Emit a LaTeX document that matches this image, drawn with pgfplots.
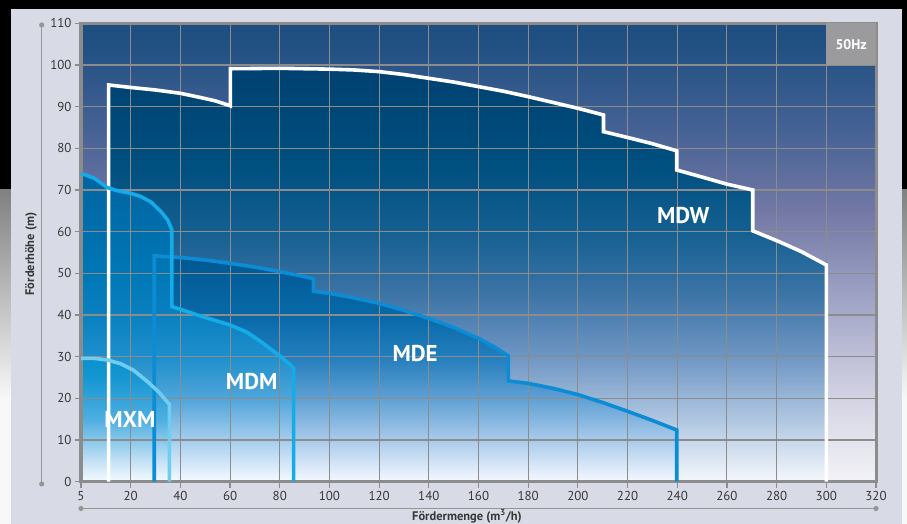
\documentclass[border=0pt]{standalone}
\usepackage{pgfplots}
\pgfplotsset{compat=1.18}
\usepackage{pgfplotstable}
\usepackage{fontspec}
\setmainfont{PT Sans}

\definecolor{gridgray}{RGB}{140,140,140}
\definecolor{scalegray}{RGB}{150,150,150}
\definecolor{panel}{RGB}{216,219,229}
\definecolor{labgray}{RGB}{55,55,55}
\definecolor{hzgray}{RGB}{155,155,158}
\definecolor{fadegray}{RGB}{128,128,128}
\definecolor{fadewhite}{RGB}{248,248,248}
\definecolor{lineMDE}{RGB}{12,140,212}
\definecolor{lineMDM}{RGB}{20,172,232}
\definecolor{lineMXM}{RGB}{110,205,240}

% plot area background (bottom -> top)
\definecolor{bg0}{RGB}{242,242,247}
\definecolor{bg1}{RGB}{220,220,233}
\definecolor{bg2}{RGB}{195,196,217}
\definecolor{bg3}{RGB}{150,155,192}
\definecolor{bg4}{RGB}{115,120,165}
\definecolor{bg5}{RGB}{68,97,148}
\definecolor{bg6}{RGB}{33,80,130}
\definecolor{bg7}{RGB}{30,78,128}
\pgfdeclareverticalshading{plotbg}{100bp}{color(0bp)=(bg0); color(25bp)=(bg0);
  color(31.8bp)=(bg1); color(37.7bp)=(bg2); color(46.8bp)=(bg3); color(54.5bp)=(bg4);
  color(63.6bp)=(bg5); color(72.7bp)=(bg6); color(75bp)=(bg7); color(100bp)=(bg7)}

% MDW fill
\definecolor{w0}{RGB}{245,248,252}
\definecolor{w1}{RGB}{175,198,225}
\definecolor{w2}{RGB}{110,150,195}
\definecolor{w3}{RGB}{60,116,166}
\definecolor{w4}{RGB}{20,95,145}
\definecolor{w5}{RGB}{0,80,128}
\definecolor{w6}{RGB}{0,65,112}
\pgfdeclareverticalshading{mdwsh}{100bp}{color(0bp)=(w0); color(25bp)=(w0);
  color(32.6bp)=(w1); color(40.2bp)=(w2); color(47.7bp)=(w3); color(55.3bp)=(w4);
  color(62.9bp)=(w5); color(75bp)=(w6); color(100bp)=(w6)}

% MDE fill
\definecolor{e0}{RGB}{245,248,255}
\definecolor{e1}{RGB}{170,203,235}
\definecolor{e2}{RGB}{95,160,212}
\definecolor{e3}{RGB}{35,125,188}
\definecolor{e4}{RGB}{8,105,168}
\definecolor{e5}{RGB}{0,88,145}
\pgfdeclareverticalshading{mdesh}{100bp}{color(0bp)=(e0); color(25bp)=(e0);
  color(34.2bp)=(e1); color(43.5bp)=(e2); color(52.7bp)=(e3); color(61.9bp)=(e4);
  color(75bp)=(e5); color(100bp)=(e5)}

% MDM fill
\definecolor{m0}{RGB}{245,250,255}
\definecolor{m1}{RGB}{165,205,237}
\definecolor{m2}{RGB}{80,165,218}
\definecolor{m3}{RGB}{30,143,203}
\definecolor{m4}{RGB}{10,128,192}
\definecolor{m5}{RGB}{0,119,181}
\definecolor{m6}{RGB}{0,100,160}
\pgfdeclareverticalshading{mdmsh}{100bp}{color(0bp)=(m0); color(25bp)=(m0);
  color(31.8bp)=(m1); color(38.5bp)=(m2); color(45.3bp)=(m3); color(52.1bp)=(m4);
  color(58.9bp)=(m5); color(75bp)=(m6); color(100bp)=(m6)}

% MXM fill
\definecolor{x0}{RGB}{245,250,255}
\definecolor{x1}{RGB}{195,225,245}
\definecolor{x2}{RGB}{80,175,225}
\definecolor{x3}{RGB}{20,150,210}
\definecolor{x4}{RGB}{10,145,205}
\pgfdeclareverticalshading{mxmsh}{100bp}{color(0bp)=(x0); color(25bp)=(x0);
  color(33.5bp)=(x1); color(50bp)=(x2); color(67.5bp)=(x3); color(75bp)=(x4);
  color(100bp)=(x4)}

% pump ranges (x: 0 = left edge labelled 5)
\pgfplotstableread{
x y
11.1 0
11.1 95.2
20 94.6
30 94.0
40 93.2
48 92.2
54 91.4
60.1 90.2
60.1 99.1
80 99.2
100 99.0
110 98.8
120 98.4
130 97.7
140 96.8
150 95.9
160 94.8
170 93.7
180 92.4
190 91.0
200 89.6
210.3 88.0
210.3 84.0
220 82.6
230 81.1
239.8 79.4
239.8 74.8
250 73.1
260 71.4
270.4 70.0
270.4 60.2
281 57.6
290 55.2
300 52.0
300 0
}\mdw

\pgfplotstableread{
x y
29.5 0
29.5 54.2
40 53.8
50 53.2
60 52.4
70 51.5
80 50.4
90 49.2
93.6 48.7
93.6 45.7
100 45.2
110 44.1
120 42.8
130 41.1
140 39.2
150 37.0
160 34.4
166 32.5
172 30.2
172 24.2
180 23.6
190 22.4
200 20.9
210 19.0
220 16.9
230 14.7
239.8 12.4
239.8 0
}\mde

\pgfplotstableread{
x y
0 0
0 74.0
5.4 72.8
10.5 70.6
14.8 69.8
20.1 69.2
24.2 68.4
28.2 67.1
32.2 64.8
34.9 62.8
36.6 60.4
36.6 42.0
39.9 41.4
47.9 39.8
60 37.6
66.7 35.9
72 33.8
80 30.2
84 28.2
85.6 27.2
85.6 0
}\mdm

\pgfplotstableread{
x y
0 0
0 29.6
5.4 29.6
10.7 29.2
16 28.3
21 26.8
26.8 24.0
31.5 21.4
34.9 19.0
35.6 18.6
35.6 0
}\mxm

\begin{document}
\begin{tikzpicture}
\begin{axis}[
    name=ax, at={(0,0)}, anchor=south west,
    scale only axis, width=795bp, height=458.4bp,
    set layers, clip=false,
    xmin=0, xmax=320, ymin=0, ymax=110,
    xtick={0,20,...,320},
    xticklabels={5,20,40,60,80,100,120,140,160,180,200,220,240,260,280,300,320},
    ytick={0,10,...,110},
    /pgf/number format/assume math mode=true,
    grid=major,
    grid style={draw=gridgray, line width=1.1bp},
    axis line style={draw=gridgray, line width=3bp},
    tick style={draw=gridgray, line width=1.2bp},
    major tick length=6bp, tick align=outside, tick pos=left,
    ticklabel style={font=\fontsize{13}{15}\selectfont, text=labgray},
  ]
  \begin{pgfonlayer}{axis background}
    % page: black top, grey fade below, light panel
    \fill[black] (rel axis cs:-0.101887,0.636344) rectangle (rel axis cs:1.038994,1.050829);
    \shade[top color=fadegray, bottom color=fadewhite]
      (rel axis cs:-0.101887,0.178229) rectangle (rel axis cs:1.038994,0.636344);
    \fill[fadewhite] (rel axis cs:-0.101887,-0.092277) rectangle (rel axis cs:1.038994,0.178229);
    \fill[panel] (rel axis cs:-0.088050,-0.092277) rectangle (rel axis cs:1.032704,1.031195);
    \shade[shading=plotbg] (rel axis cs:0,0) rectangle (rel axis cs:1,1);
  \end{pgfonlayer}

  % filled ranges
  \addplot[on layer=axis background, draw=none, shade, shading=mdwsh] table {\mdw} \closedcycle;
  \addplot[on layer=axis background, draw=none, shade, shading=mdesh] table {\mde} \closedcycle;
  \addplot[on layer=axis background, draw=none, shade, shading=mdmsh] table {\mdm} \closedcycle;
  \addplot[on layer=axis background, draw=none, shade, shading=mxmsh] table {\mxm} \closedcycle;

  % outlines
  \addplot[white, line width=3.6bp, line join=miter, mark=none] table {\mdw};
  \addplot[lineMDE, line width=3.6bp, line join=miter, mark=none] table {\mde};
  \addplot[lineMDM, line width=3.6bp, line join=miter, mark=none, skip coords between index={0}{1}] table {\mdm};
  \addplot[lineMXM, line width=3.6bp, line join=miter, mark=none, skip coords between index={0}{1}] table {\mxm};

  \fill[hzgray] (axis cs:300,100) rectangle (axis cs:320,110);
  \node[text=white, font=\bfseries\fontsize{14}{16}\selectfont] at (axis cs:310,105) {50Hz};

  \node[text=white, font=\bfseries\fontsize{23}{27}\selectfont] at (axis cs:242.4,63.8) {MDW};
  \node[text=white, font=\bfseries\fontsize{23}{27}\selectfont] at (axis cs:134.5,30.8) {MDE};
  \node[text=white, font=\bfseries\fontsize{23}{27}\selectfont] at (axis cs:68.7,24.0) {MDM};
  \node[text=white, font=\bfseries\fontsize{23}{27}\selectfont] at (axis cs:19.7,15.0) {MXM};
\end{axis}

% scale bars and axis titles
\draw[scalegray, line width=1.4bp] (-39.3bp,-2.3bp) -- (-39.3bp,456.7bp);
\fill[scalegray] (-39.3bp,-2.3bp) circle (2.6bp) (-39.3bp,456.7bp) circle (2.6bp);
\draw[scalegray, line width=1.4bp] (0bp,-26.8bp) -- (795bp,-26.8bp);
\fill[scalegray] (0bp,-26.8bp) circle (2.6bp) (795bp,-26.8bp) circle (2.6bp);
\node[rotate=90, text=labgray, font=\bfseries\fontsize{12.5}{14}\selectfont] at (-50bp,227.7bp) {Förderhöhe (m)};
\node[anchor=base, text=labgray, font=\bfseries\fontsize{12.5}{14}\selectfont] at (386bp,-38.6bp) {Fördermenge (m\textsuperscript{3}/h)};

\pgfresetboundingbox
\path[use as bounding box] (-81bp,-42.3bp) rectangle (826bp,481.7bp);
\end{tikzpicture}
\end{document}
